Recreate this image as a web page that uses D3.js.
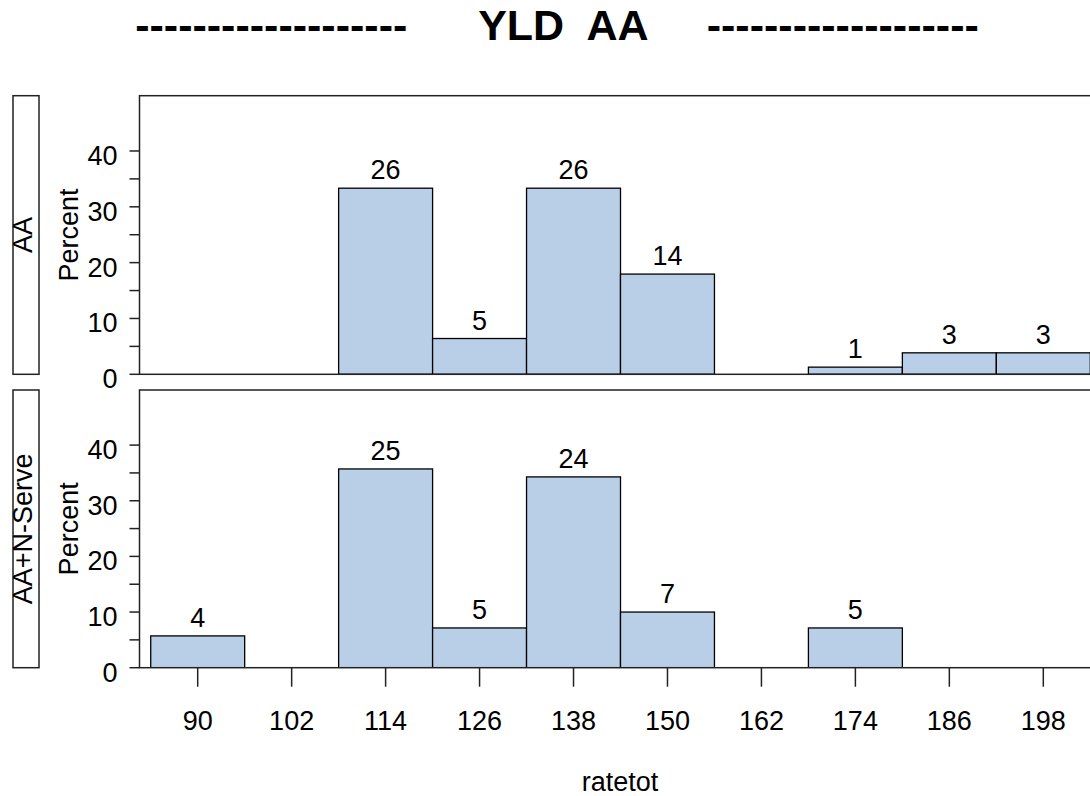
<!DOCTYPE html>
<html>
<head>
<meta charset="utf-8">
<script src="https://cdn.jsdelivr.net/npm/d3@7"></script>
<style>
html,body{margin:0;padding:0;background:#fff;}
svg{display:block;font-family:"Liberation Sans",Arial,sans-serif;}
</style>
</head>
<body>
<svg id="chart" width="1090" height="796"></svg>
<script>
// ---- data ----
const titleText = "-------------------      YLD  AA     -------------------";
const binMids = [90, 102, 114, 126, 138, 150, 162, 174, 186, 198];
const binWidth = 12;
const panelNames = ["AA", "AA+N-Serve"];
const countsAA = [0, 0, 26, 5, 26, 14, 0, 1, 3, 3];
const countsAAN = [4, 0, 25, 5, 24, 7, 0, 5, 0, 0];
const xTicks = [90, 102, 114, 126, 138, 150, 162, 174, 186, 198];
const yMajor = [0, 10, 20, 30, 40];
const yMinor = [5, 15, 25, 35];
const xLabel = "ratetot";
const yLabel = "Percent";

// ---- layout ----
const svg = d3.select("#chart");
const fill = "#B9CFE7";
const fs = 27;
const panelLeft = 139.5, panelRight = 1110;
const panelBoxes = [
  {top: 95.7, bottom: 374.3},
  {top: 390, bottom: 667.7}
];
const x = d3.scaleLinear().domain([90, 198]).range([197.7, 1043.3]);

svg.append("text")
  .attr("x", 557).attr("y", 40)
  .attr("text-anchor", "middle")
  .attr("font-size", 43).attr("font-weight", "bold")
  .style("white-space", "pre")
  .attr("xml:space", "preserve")
  .text(titleText);

const allCounts = [countsAA, countsAAN];

panelBoxes.forEach((pb, i) => {
  const counts = allCounts[i];
  const total = d3.sum(counts);
  const pct = counts.map(c => c / total * 100);
  const y = d3.scaleLinear().domain([0, 49.9]).range([pb.bottom, pb.top]);
  const g = svg.append("g");

  const clipId = "clip" + i;
  svg.append("clipPath").attr("id", clipId).append("rect")
    .attr("x", panelLeft).attr("y", pb.top)
    .attr("width", panelRight - panelLeft).attr("height", pb.bottom - pb.top);

  // bars
  const bars = g.append("g").attr("clip-path", `url(#${clipId})`);
  binMids.forEach((m, j) => {
    if (counts[j] === 0) return;
    bars.append("rect")
      .attr("x", x(m - binWidth / 2))
      .attr("y", y(pct[j]))
      .attr("width", x(m + binWidth / 2) - x(m - binWidth / 2))
      .attr("height", y(0) - y(pct[j]))
      .attr("fill", fill).attr("stroke", "#000").attr("stroke-width", 1.3);
    bars.append("text")
      .attr("x", x(m)).attr("y", y(pct[j]) - 9)
      .attr("text-anchor", "middle").attr("font-size", fs)
      .text(counts[j]);
  });

  // panel box
  g.append("rect")
    .attr("x", panelLeft).attr("y", pb.top)
    .attr("width", panelRight - panelLeft).attr("height", pb.bottom - pb.top)
    .attr("fill", "none").attr("stroke", "#222").attr("stroke-width", 1.5);

  // y axis ticks
  [...yMajor, ...yMinor].forEach(v => {
    g.append("line")
      .attr("x1", panelLeft - 10).attr("x2", panelLeft)
      .attr("y1", y(v)).attr("y2", y(v))
      .attr("stroke", "#222").attr("stroke-width", 1.5);
  });
  yMajor.forEach(v => {
    g.append("text")
      .attr("x", panelLeft - 22).attr("y", y(v) + 14)
      .attr("text-anchor", "end").attr("font-size", fs)
      .text(v);
  });

  // y label
  const cy = (pb.top + pb.bottom) / 2;
  g.append("text")
    .attr("transform", `translate(78,${cy}) rotate(-90)`)
    .attr("text-anchor", "middle").attr("font-size", fs)
    .text(yLabel);

  // strip
  g.append("rect")
    .attr("x", 13).attr("y", pb.top)
    .attr("width", 26).attr("height", pb.bottom - pb.top)
    .attr("fill", "#fff").attr("stroke", "#222").attr("stroke-width", 1.5);
  g.append("text")
    .attr("transform", `translate(32,${cy}) rotate(-90)`)
    .attr("text-anchor", "middle").attr("font-size", fs)
    .text(panelNames[i]);

  // x axis on bottom panel
  if (i === panelBoxes.length - 1) {
    xTicks.forEach(t => {
      g.append("line")
        .attr("x1", x(t)).attr("x2", x(t))
        .attr("y1", pb.bottom).attr("y2", pb.bottom + 19)
        .attr("stroke", "#222").attr("stroke-width", 1.5);
      g.append("text")
        .attr("x", x(t)).attr("y", 730)
        .attr("text-anchor", "middle").attr("font-size", fs)
        .text(t);
    });
  }
});

svg.append("text")
  .attr("x", 620).attr("y", 791)
  .attr("text-anchor", "middle").attr("font-size", fs)
  .text(xLabel);
</script>
</body>
</html>
